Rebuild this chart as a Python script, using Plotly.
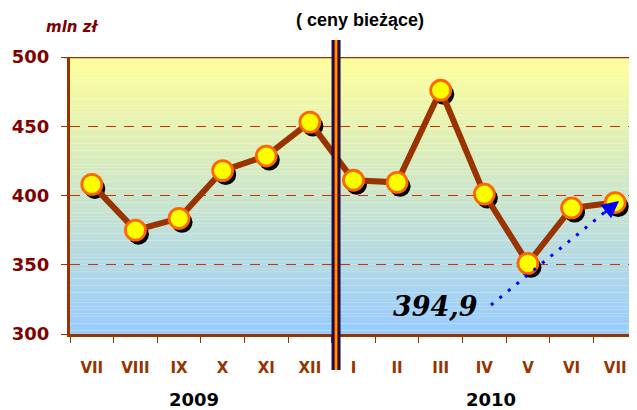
import plotly.graph_objects as go

# ---- data ----
months = ["VII", "VIII", "IX", "X", "XI", "XII", "I", "II", "III", "IV", "V", "VI", "VII"]
values = [408, 375, 383.5, 418, 428.5, 453, 411, 409.5, 476, 401, 351, 391, 394.9]
years = ["2009", "2010"]
y_ticks = [300, 350, 400, 450, 500]
last_label = "394,9"
unit_label = "mln zł"
title_text = "( ceny bieżące)"

# ---- geometry (page body has an 8px margin) ----
OFF = 8
W, H = 637 - OFF, 410 - OFF
ML, MR, MT, MB = 70 - OFF, 0, 57 - OFF, 76
PW, PH = W - ML - MR, H - MT - MB
xr = [-0.5, len(months) - 0.5]
yr = [300, 500]
pxu_x = PW / (xr[1] - xr[0])
pxu_y = PH / (yr[1] - yr[0])
SHX, SHY = 3, 4  # shadow offset in px

BROWN = "#993300"
MAROON = "#800000"

xi = list(range(len(months)))


def px2x(px):
    return (px - 70) / pxu_x + xr[0]


def py2y(py):
    return yr[1] - (py - 57) / pxu_y


def px2paper(px):
    return (px - 70) / PW


def py2paper(py):
    return 1 - (py - 57) / PH


fig = go.Figure()

# shadow markers on base axes (shifted ranges)
fig.add_trace(go.Scatter(
    x=xi, y=values, xaxis="x", yaxis="y", mode="markers",
    marker=dict(size=21, color="black"), hoverinfo="skip", showlegend=False))

# main line + markers on overlay axes
fig.add_trace(go.Scatter(
    x=xi, y=values, xaxis="x2", yaxis="y2", mode="lines+markers",
    line=dict(color=BROWN, width=6),
    marker=dict(size=20, color="#FFFF00", line=dict(color="#FF6600", width=2.8)),
    showlegend=False))

shapes = []
# gradient background
top = (255, 255, 153)
bot = (153, 204, 255)
n = 80
for i in range(n):
    t = (i + 0.5) / n  # 0 at bottom
    c = tuple(round(bot[k] + (top[k] - bot[k]) * t) for k in range(3))
    shapes.append(dict(type="rect", xref="x domain", yref="y domain",
                       x0=0, x1=1, y0=i / n, y1=(i + 1.02) / n,
                       fillcolor="rgb(%d,%d,%d)" % c, line=dict(width=0),
                       layer="below"))
# top border
shapes.append(dict(type="line", xref="paper", yref="y2", x0=-6 / PW, x1=1,
                   y0=500, y1=500, line=dict(color=BROWN, width=2.5), layer="above"))
# separator bar between years
sep_x = 5.6
for col, w in [("#1C0F46", 9), ("#CC2200", 4), ("#FFCC00", 1.5)]:
    shapes.append(dict(type="line", xref="x2", yref="paper", x0=sep_x, x1=sep_x,
                       y0=py2paper(370), y1=py2paper(40), line=dict(color=col, width=w),
                       layer="above"))
# dotted pointer line
shapes.append(dict(type="line", xref="x2", yref="y2",
                   x0=px2x(491), y0=py2y(305), x1=px2x(605), y1=py2y(212),
                   line=dict(color="#0000FF", width=3, dash="3px,8px"), layer="above"))

C = dict(xanchor="center", yanchor="middle", showarrow=False)
annotations = [
    dict(x=px2x(619), y=py2y(201), xref="x2", yref="y2", text="", showarrow=True,
         ax=-16, ay=13, arrowhead=2, arrowsize=1.3, arrowwidth=2.6, arrowcolor="#0000FF"),
    dict(x=px2x(435), y=py2y(306), xref="x2", yref="y2", text="<b><i>%s</i></b>" % last_label,
         font=dict(family="DejaVu Serif", size=27, color="black"), **C),
    dict(x=px2paper(193.5), y=py2paper(399), xref="paper", yref="paper",
         text="<b>%s</b>" % years[0],
         font=dict(family="DejaVu Sans", size=18, color="black"), **C),
    dict(x=px2paper(490.5), y=py2paper(399), xref="paper", yref="paper",
         text="<b>%s</b>" % years[1],
         font=dict(family="DejaVu Sans", size=18, color="black"), **C),
    dict(x=px2paper(72), y=py2paper(27), xref="paper", yref="paper",
         text="<b><i>%s</i></b>" % unit_label,
         font=dict(family="DejaVu Sans", size=15, color=MAROON), **C),
    dict(x=px2paper(360), y=py2paper(20), xref="paper", yref="paper",
         text="<b>%s</b>" % title_text,
         font=dict(family="Liberation Sans", size=18, color="black"), **C),
]

fig.update_layout(
    width=W, height=H,
    margin=dict(l=ML, r=MR, t=MT, b=MB, pad=0),
    paper_bgcolor="white", plot_bgcolor="rgba(0,0,0,0)",
    shapes=shapes, annotations=annotations,
    xaxis=dict(range=[xr[0] - SHX / pxu_x, xr[1] - SHX / pxu_x], visible=False, fixedrange=True),
    yaxis=dict(range=[yr[0] + SHY / pxu_y, yr[1] + SHY / pxu_y], visible=False, fixedrange=True),
    xaxis2=dict(overlaying="x", range=xr, tickmode="array", tickvals=xi, ticktext=months,
                ticks="", showgrid=False, zeroline=False,
                showline=True, linecolor=BROWN, linewidth=3,
                tickfont=dict(family="DejaVu Sans", size=15, color=BROWN, weight="bold"),
                ticklabelstandoff=18,
                minor=dict(tickmode="linear", tick0=0.5, dtick=1, ticks="outside",
                           ticklen=6, tickwidth=1.2, tickcolor=BROWN, showgrid=False)),
    yaxis2=dict(overlaying="y", range=yr, tickmode="array", tickvals=y_ticks,
                ticks="outside", ticklen=6, tickwidth=1.2, tickcolor=BROWN,
                showgrid=True, gridcolor="#CC3300", gridwidth=1.2, griddash="10px,8px",
                zeroline=False, showline=True, linecolor=BROWN, linewidth=3,
                tickfont=dict(family="DejaVu Sans", size=18, color=MAROON, weight="bold"),
                ticklabelstandoff=8),
)

fig.write_html("out.html")
